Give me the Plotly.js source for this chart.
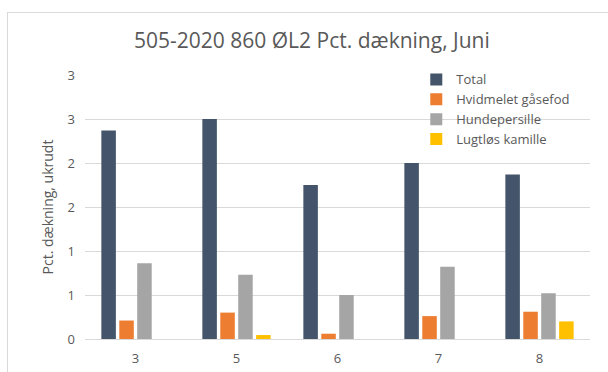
<!DOCTYPE html>
<html>
<head>
<meta charset="utf-8">
<script src="https://cdn.plot.ly/plotly-3.0.1.min.js"></script>
<style>
html,body{margin:0;padding:0;background:#fff;overflow:hidden;width:608px;height:372px;}
#chart{width:608px;height:372px;position:absolute;left:0;top:0;}
#frame{position:absolute;left:7px;top:12px;width:700px;height:500px;border:1px solid #d9d9d9;pointer-events:none;}
</style>
</head>
<body>
<div id="chart"></div>
<div id="frame"></div>
<script>
var categories = ['3', '5', '6', '7', '8'];
var seriesNames = ['Total', 'Hvidmelet gåsefod', 'Hundepersille', 'Lugtløs kamille'];
var total = [2.37, 2.5, 1.75, 2.0, 1.87];
var hvidmelet = [0.21, 0.30, 0.06, 0.26, 0.31];
var hundepersille = [0.86, 0.73, 0.50, 0.82, 0.52];
var lugtlos = [0, 0.045, 0, 0, 0.20];
var yTickVals = [0, 0.5, 1, 1.5, 2, 2.5, 3];
var yTickText = ['0', '1', '1', '2', '2', '3', '3'];
var colors = ['#44546A', '#ED7D31', '#A5A5A5', '#FFC000'];
var seriesValues = [total, hvidmelet, hundepersille, lugtlos];

var FONT = 'Open Sans, Noto Sans, sans-serif';
var traces = seriesValues.map(function (vals, i) {
  return {
    type: 'bar',
    name: seriesNames[i],
    x: categories,
    y: vals,
    marker: {color: colors[i], line: {width: 0}},
    hoverinfo: 'none'
  };
});

var layout = {
  width: 608,
  height: 372,
  margin: {l: 85, r: 18, t: 75, b: 33},
  paper_bgcolor: '#ffffff',
  plot_bgcolor: '#ffffff',
  font: {family: FONT, color: '#595959', size: 12},
  title: {
    text: '505-2020 860 ØL2 Pct. dækning, Juni',
    font: {family: FONT, size: 21, color: '#595959'},
    x: 0.513, xanchor: 'center',
    y: 0.892, yanchor: 'middle'
  },
  barmode: 'group',
  bargap: 0.29,
  bargroupgap: 0.19,
  xaxis: {
    type: 'category',
    showgrid: false,
    zeroline: false,
    showline: false,
    ticks: '',
    ticklabelstandoff: 10,
    tickfont: {family: FONT, size: 13, color: '#595959'}
  },
  yaxis: {
    range: [0, 3],
    tickmode: 'array',
    tickvals: yTickVals,
    ticktext: yTickText,
    showgrid: true,
    gridcolor: '#d9d9d9',
    gridwidth: 1,
    zeroline: true,
    zerolinecolor: '#d9d9d9',
    zerolinewidth: 1,
    showline: false,
    ticks: '',
    ticklabelstandoff: 9,
    tickfont: {family: FONT, size: 13, color: '#595959'},
    title: {
      text: 'Pct. dækning, ukrudt',
      font: {family: FONT, size: 14, color: '#595959'},
      standoff: 10
    }
  },
  legend: {
    x: 0.656, xanchor: 'left',
    y: 1.04, yanchor: 'top',
    bgcolor: 'rgba(0,0,0,0)',
    itemwidth: 30,
    font: {family: FONT, size: 13, color: '#595959'},
    traceorder: 'normal'
  },
  showlegend: true
};

Plotly.newPlot('chart', traces, layout, {displayModeBar: false, staticPlot: true});
</script>
</body>
</html>
